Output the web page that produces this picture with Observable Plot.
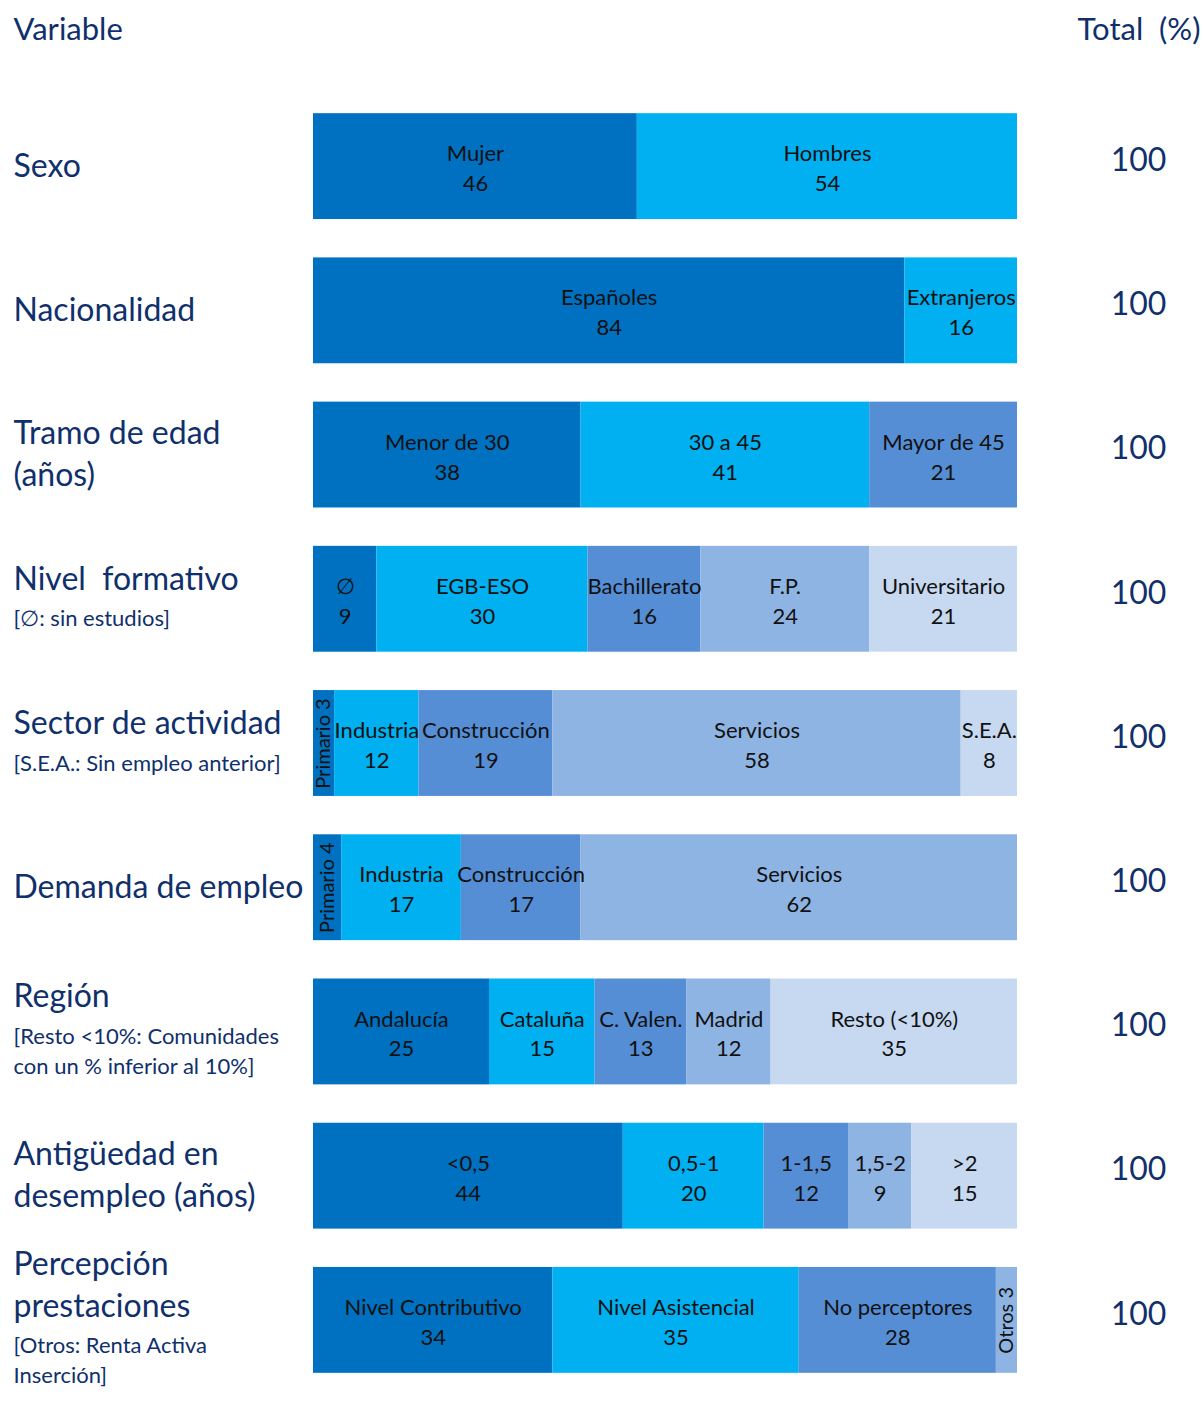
<!DOCTYPE html>
<html><head><meta charset="utf-8">
<script src="https://cdn.jsdelivr.net/npm/d3@7"></script>
<script src="https://cdn.jsdelivr.net/npm/@observablehq/plot@0.6"></script>
<style>body{margin:0;background:#fff;font-family:Lato,"Open Sans",sans-serif}</style>
</head><body><div id="chart"></div>
<script>
const variables = ["Sexo","Nacionalidad","Tramo de edad","Nivel formativo","Sector de actividad","Demanda de empleo","Región","Antigüedad en desempleo","Percepción prestaciones"];
const varTitles = ["Sexo","Nacionalidad","Tramo de edad\n(años)","Nivel  formativo","Sector de actividad","Demanda de empleo","Región","Antigüedad en\ndesempleo (años)","Percepción\nprestaciones"];
const varNotes = ["","","","[∅: sin estudios]","[S.E.A.: Sin empleo anterior]","","[Resto <10%: Comunidades\ncon un % inferior al 10%]","","[Otros: Renta Activa\nInserción]"];
const segLabels = [
  ["Mujer","Hombres"],
  ["Españoles","Extranjeros"],
  ["Menor de 30","30 a 45","Mayor de 45"],
  ["∅","EGB-ESO","Bachillerato","F.P.","Universitario"],
  ["Primario","Industria","Construcción","Servicios","S.E.A."],
  ["Primario","Industria","Construcción","Servicios"],
  ["Andalucía","Cataluña","C. Valen.","Madrid","Resto (<10%)"],
  ["<0,5","0,5-1","1-1,5","1,5-2",">2"],
  ["Nivel Contributivo","Nivel Asistencial","No perceptores","Otros"]
];
const segValues = [
  [46,54],
  [84,16],
  [38,41,21],
  [9,30,16,24,21],
  [3,12,19,58,8],
  [4,17,17,62],
  [25,15,13,12,35],
  [44,20,12,9,15],
  [34,35,28,3]
];
const totals = [100,100,100,100,100,100,100,100,100];
const palette = ["#0070C0","#00B0F0","#558ED5","#8EB4E3","#C6D9F1"];
const headerLeft = "Variable";
const headerRight = "Total  (%)";

const navy = "#10306c";
const pxPerRow = 144.25;

// build segments
const segs = [];
segLabels.forEach((labels, i) => {
  let cum = 0;
  labels.forEach((lab, j) => {
    const v = segValues[i][j];
    segs.push({row: i, label: lab, value: v, x1: cum, x2: cum + v, xm: cum + v / 2, colorIdx: j});
    cum += v;
  });
});

// left label lines, vertically centred on each bar
const lines = [];
variables.forEach((v, i) => {
  const items = [];
  varTitles[i].split("\n").forEach(t => items.push({text: t, main: true}));
  if (varNotes[i]) varNotes[i].split("\n").forEach(t => items.push({text: t, main: false}));
  let off = 0; const offs = [];
  items.forEach((it, k) => {
    if (k > 0) off += (it.main ? 42 : (items[k-1].main ? 40 : 30));
    offs.push(off);
  });
  const mid = (offs[0] + offs[offs.length-1]) / 2;
  items.forEach((it, k) => lines.push({row: i + (offs[k] - mid) / pxPerRow, text: it.text, main: it.main}));
});

const rowsIdx = variables.map((d,i)=>({row:i,total:totals[i]}));
const half = 0.367;

const chart = Plot.plot({
  width: 1204, height: 1403,
  marginLeft: 313, marginRight: 187, marginTop: 94, marginBottom: 11,
  x: {domain: [0,100], axis: null},
  y: {domain: [-0.5, 8.5], axis: null, reverse: true},
  style: {fontFamily: "Lato, 'Open Sans', sans-serif", background: "#fff"},
  marks: [
    Plot.rect(segs, {x1: "x1", x2: "x2", y1: d => d.row - half, y2: d => d.row + half, fill: d => palette[d.colorIdx]}),
    Plot.text(segs.filter(d => d.value >= 5), {x: "xm", y: "row", text: d => d.label + "\n" + d.value, fill: "#111", fontSize: 22, lineHeight: 1.36}),
    Plot.text(segs.filter(d => d.value < 5), {x: "xm", y: "row", text: d => d.label + " " + d.value, fill: "#111", fontSize: 20, rotate: -90}),
    Plot.text(lines.filter(d => d.main), {x: 0, y: "row", text: "text", dx: -300, textAnchor: "start", fill: navy, fontSize: 32}),
    Plot.text(lines.filter(d => !d.main), {x: 0, y: "row", text: "text", dx: -300, textAnchor: "start", fill: navy, fontSize: 22}),
    Plot.text(rowsIdx, {x: 100, y: "row", text: d => String(d.total), dx: 121, dy: -6, fill: navy, fontSize: 32}),
    Plot.text([headerLeft], {frameAnchor: "top-left", lineAnchor: "middle", text: d => d, dx: -300, dy: -64, fill: navy, fontSize: 31}),
    Plot.text([headerRight], {frameAnchor: "top-right", lineAnchor: "middle", text: d => d, dx: 183, dy: -64, textAnchor: "end", fill: navy, fontSize: 31})
  ]
});
document.getElementById("chart").appendChild(chart);
</script></body></html>
